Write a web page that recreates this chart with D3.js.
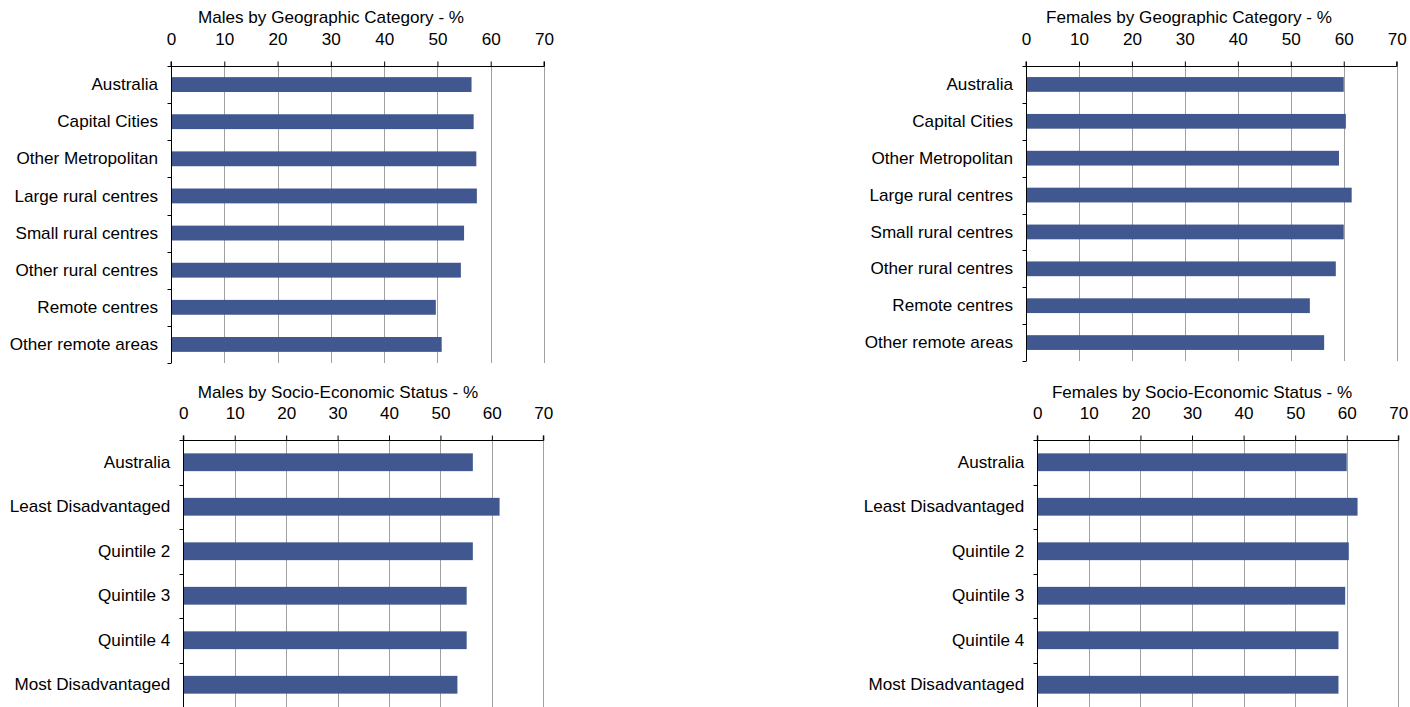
<!DOCTYPE html>
<html>
<head>
<meta charset="utf-8">
<script src="https://cdn.jsdelivr.net/npm/d3@7"></script>
<style>
  html, body { margin: 0; padding: 0; background: #fff; }
  svg { display: block; font-family: "Liberation Sans", Arial, sans-serif; }
</style>
</head>
<body>
<svg id="chart" width="1410" height="707"></svg>
<script>
// ---- data ----
const geoCategories = ["Australia", "Capital Cities", "Other Metropolitan", "Large rural centres",
  "Small rural centres", "Other rural centres", "Remote centres", "Other remote areas"];
const malesGeo = [56.4, 56.8, 57.3, 57.4, 55.0, 54.4, 49.7, 50.8];
const femalesGeo = [60.0, 60.4, 59.1, 61.5, 60.0, 58.5, 53.6, 56.3];

const sesCategories = ["Australia", "Least Disadvantaged", "Quintile 2", "Quintile 3",
  "Quintile 4", "Most Disadvantaged"];
const malesSes = [56.3, 61.5, 56.3, 55.1, 55.1, 53.3];
const femalesSes = [60.0, 62.1, 60.4, 59.7, 58.4, 58.4];

const xTicks = [0, 10, 20, 30, 40, 50, 60, 70];
const titles = ["Males by Geographic Category - %", "Females by Geographic Category - %",
  "Males by Socio-Economic Status - %", "Females by Socio-Economic Status - %"];

// ---- layout ----
const svg = d3.select("#chart");
const BAR = "#40588f";
const GRID = "#a0a0a0";
const FS = 16;        // font size
const SX = 1.07;      // horizontal stretch of the original picture's text

function drawPanel(o) {
  const g = svg.append("g");
  const x = d3.scaleLinear().domain([0, 70]).range([o.x0, o.x1]);
  const y = d3.scaleBand().domain(o.categories).range([o.y0, o.y1]).paddingInner(0.6).paddingOuter(0.3);
  const yb = d3.scaleBand().domain(o.categories).range([o.y0, o.y1]);

  // gridlines
  g.selectAll("line.grid").data(xTicks.filter(t => t > 0)).join("line")
    .attr("x1", d => Math.round(x(d)) + 0.5).attr("x2", d => Math.round(x(d)) + 0.5)
    .attr("y1", o.y0).attr("y2", o.y1)
    .attr("stroke", GRID).attr("stroke-width", 1);

  // bars
  g.selectAll("rect.bar").data(o.values).join("rect")
    .attr("x", x(0))
    .attr("y", (d, i) => y(o.categories[i]))
    .attr("width", d => x(d) - x(0))
    .attr("height", y.bandwidth())
    .attr("fill", BAR);

  // top axis
  const ax = d3.axisTop(x).tickValues(xTicks).tickSize(5).tickPadding(17).tickFormat(d3.format("d"));
  const axg = g.append("g").attr("transform", `translate(0,${Math.round(o.y0) + 0.5})`).call(ax);
  axg.select(".domain").attr("stroke", "#000").attr("d", `M${x(0)},-5V0H${x(70)}V-5`);
  axg.selectAll(".tick line").attr("stroke", "#000");
  axg.selectAll(".tick text").attr("font-size", FS).attr("fill", "#000")
    .attr("font-family", "Liberation Sans, Arial, sans-serif")
    .attr("transform", `scale(${SX},1)`);

  // left axis line with category boundary ticks
  const boundaries = o.categories.map(c => yb(c)).concat([o.y1]);
  const xl = Math.round(x(0)) + 0.5;
  g.append("line").attr("x1", xl).attr("x2", xl).attr("y1", o.y0).attr("y2", o.y1)
    .attr("stroke", "#000");
  g.selectAll("line.ytick").data(boundaries).join("line")
    .attr("x1", xl - 4).attr("x2", xl).attr("y1", d => Math.round(d) + 0.5).attr("y2", d => Math.round(d) + 0.5)
    .attr("stroke", "#000");

  // category labels
  g.selectAll("text.cat").data(o.categories).join("text")
    .attr("transform", d => `translate(${x(0) - 13},${yb(d) + yb.bandwidth() / 2}) scale(${SX},1)`)
    .attr("dy", "0.35em")
    .attr("text-anchor", "end")
    .attr("font-size", FS)
    .attr("fill", "#000")
    .text(d => d);

  // title
  g.append("text")
    .attr("transform", `translate(${o.titleX},${o.titleY}) scale(${SX},1)`)
    .attr("text-anchor", "middle").attr("font-size", FS).attr("fill", "#000")
    .text(o.title);
}

drawPanel({ categories: geoCategories, values: malesGeo, x0: 171, x1: 544, y0: 66, y1: 363,
  title: titles[0], titleX: 331, titleY: 23 });
drawPanel({ categories: geoCategories, values: femalesGeo, x0: 1026, x1: 1396.7, y0: 66, y1: 361,
  title: titles[1], titleX: 1189, titleY: 23 });
drawPanel({ categories: sesCategories, values: malesSes, x0: 183.3, x1: 543.3, y0: 440, y1: 707,
  title: titles[2], titleX: 338, titleY: 398 });
drawPanel({ categories: sesCategories, values: femalesSes, x0: 1037.3, x1: 1398.3, y0: 440, y1: 707,
  title: titles[3], titleX: 1202, titleY: 398 });
</script>
</body>
</html>
